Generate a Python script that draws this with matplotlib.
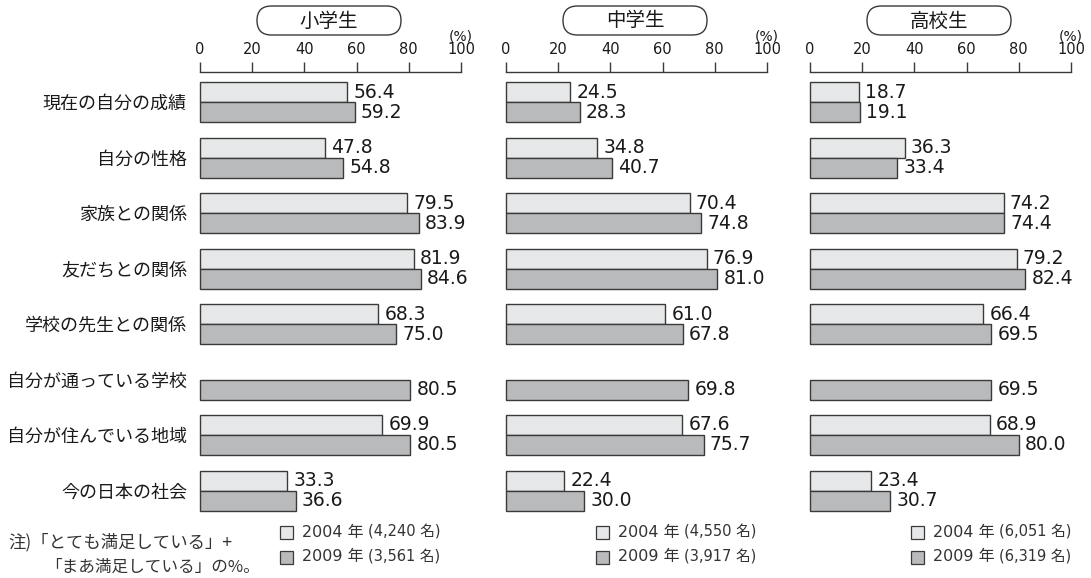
import numpy as np
import matplotlib
matplotlib.use('Agg')
import matplotlib.pyplot as plt
from matplotlib.patches import FancyBboxPatch, Rectangle

# データ (単位: %)
categories = ['現在の自分の成績', '自分の性格', '家族との関係', '友だちとの関係',
              '学校の先生との関係', '自分が通っている学校', '自分が住んでいる地域', '今の日本の社会']
panel_titles = ['小学生', '中学生', '高校生']

elem_2004 = [56.4, 47.8, 79.5, 81.9, 68.3, np.nan, 69.9, 33.3]
elem_2009 = [59.2, 54.8, 83.9, 84.6, 75.0, 80.5, 80.5, 36.6]
jhs_2004 = [24.5, 34.8, 70.4, 76.9, 61.0, np.nan, 67.6, 22.4]
jhs_2009 = [28.3, 40.7, 74.8, 81.0, 67.8, 69.8, 75.7, 30.0]
hs_2004 = [18.7, 36.3, 74.2, 79.2, 66.4, np.nan, 68.9, 23.4]
hs_2009 = [19.1, 33.4, 74.4, 82.4, 69.5, 69.5, 80.0, 30.7]

n_2004 = ['4,240', '4,550', '6,051']
n_2009 = ['3,561', '3,917', '6,319']
ticks = [0, 20, 40, 60, 80, 100]

note_lines = ['注)「とても満足している」+', '「まあ満足している」の%。']

JP = ['Noto Sans CJK JP', 'DejaVu Sans']
NUM = ['DejaVu Sans', 'Noto Sans CJK JP']
c04 = '#e6e7e8'
c09 = '#b9babc'
edge = '#3a3a3a'

W, H = 1091, 578
fig = plt.figure(figsize=(W / 100, H / 100), dpi=100)

# 全体に重ねるピクセル座標の軸 (見出し・凡例・注記用)
ov = fig.add_axes([0, 0, 1, 1])
ov.set_xlim(0, W)
ov.set_ylim(H, 0)
ov.axis('off')

panel_x = [(200, 461), (506, 767), (810, 1071)]
legend_x = [280, 596, 911]
axis_top, axis_bot = 71.7, 525
row0, pitch = 102, 55.5
bar_h = 20 / pitch

data = [(elem_2004, elem_2009), (jhs_2004, jhs_2009), (hs_2004, hs_2009)]
y = np.arange(len(categories))

for k, ((x0, x1), (v04, v09)) in enumerate(zip(panel_x, data)):
    ax = fig.add_axes([x0 / W, 1 - axis_bot / H, (x1 - x0) / W, (axis_bot - axis_top) / H])
    ax.set_xlim(0, 100)
    ax.set_ylim((axis_bot - row0) / pitch, (axis_top - row0) / pitch)
    ax.patch.set_visible(False)

    v04 = np.array(v04)
    v09 = np.array(v09)
    m = ~np.isnan(v04)
    ax.barh(y[m] - bar_h / 2, v04[m], height=bar_h, color=c04, edgecolor=edge,
            linewidth=1.0, clip_on=False)
    ax.barh(y + bar_h / 2, v09, height=bar_h, color=c09, edgecolor=edge,
            linewidth=1.0, clip_on=False)

    for yi, v in zip(y[m], v04[m]):
        ax.annotate(f'{v:.1f}', (v, yi - bar_h / 2), xytext=(4.5, 0), textcoords='offset points',
                    ha='left', va='center', fontsize=13.5, family=NUM, color='#1a1a1a')
    for yi, v in zip(y, v09):
        ax.annotate(f'{v:.1f}', (v, yi + bar_h / 2), xytext=(4.5, 0), textcoords='offset points',
                    ha='left', va='center', fontsize=13.5, family=NUM, color='#1a1a1a')

    for s in ['left', 'right', 'bottom']:
        ax.spines[s].set_visible(False)
    ax.spines['top'].set_color(edge)
    ax.spines['top'].set_linewidth(1.0)
    ax.xaxis.set_ticks_position('top')
    ax.set_xticks(ticks)
    ax.tick_params(axis='x', direction='out', length=7.2, width=1.0, pad=3.4,
                   labelsize=10.5, colors=edge, labelcolor='#1a1a1a')
    for lab in ax.get_xticklabels():
        lab.set_family(NUM)

    if k == 0:
        ax.set_yticks(y)
        ax.set_yticklabels(categories, fontsize=13, family=JP, color='#1a1a1a')
        ax.tick_params(axis='y', length=0, pad=9.4)
    else:
        ax.set_yticks([])

    # 見出し (角丸の枠)
    cx = (x0 + x1) / 2 - 1.5
    ov.add_patch(FancyBboxPatch((cx - 72, 6), 144, 29,
                                boxstyle='round,pad=0,rounding_size=14.5',
                                facecolor='white', edgecolor=edge, linewidth=1.0))
    ov.text(cx, 21, panel_titles[k], ha='center', va='center', fontsize=14,
            family=JP, color='#1a1a1a')
    ov.text(x1, 37, '(%)', ha='center', va='center', fontsize=10, family=NUM, color='#1a1a1a')

    # 凡例
    lx = legend_x[k]
    for yy, col, year, n in [(532, c04, '2004', n_2004[k]), (557, c09, '2009', n_2009[k])]:
        ov.add_patch(Rectangle((lx, yy - 6.5), 13, 13, facecolor=col, edgecolor=edge, linewidth=0.9))
        t = ov.text(lx + 22, yy, f'{year} 年', ha='left', va='center', fontsize=11.5,
                    family=NUM, color='#333333')
        ov.annotate(f'({n} 名)', xy=(1, 0.5), xycoords=t, xytext=(3.5, 0),
                    textcoords='offset points', ha='left', va='center', fontsize=10.5,
                    family=NUM, color='#333333')

# 注記
ov.text(8, 542, note_lines[0], ha='left', va='center', fontsize=12.5, family=JP, color='#333333')
ov.text(45, 567, note_lines[1], ha='left', va='center', fontsize=12, family=JP, color='#333333')

fig.savefig('out.png', dpi=100)
